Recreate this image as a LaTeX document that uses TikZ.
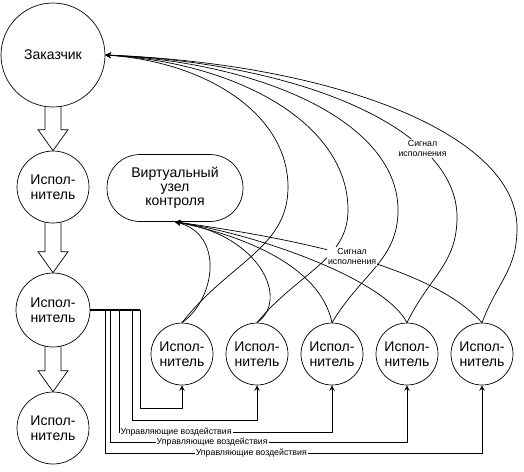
\documentclass[tikz,border=0pt]{standalone}
\usepackage{fontspec}
\setmainfont{Liberation Sans}
\usepackage{tikz}
\usetikzlibrary{calc,arrows}
\tikzset{>={stealth}}
\tikzset{
  party/.style={draw,circle,inner sep=0pt,align=center,font=\fontsize{8}{8.5}\selectfont},
  vnode/.style={draw,rectangle,rounded corners=0.66cm,minimum width=2.72cm,minimum height=1.34cm,
    inner sep=0pt,align=center,font=\fontsize{8}{8}\selectfont},
  sig/.style={->,line width=0.4pt},
  ctrl/.style={->,line width=0.4pt},
  bus/.style={line width=1.2pt},
  hollow/.style={line width=0.4pt},
  lbl/.style={fill=white,inner sep=0.6pt,align=center,font=\fontsize{5}{5.7}\selectfont}
}
\newcommand{\hollowarrow}[2]{%
  \draw[hollow] ($(#1.south)+(-8,-1)$) -- ($(#2.north)+(-8,-21)$) -- ($(#2.north)+(-15,-21)$)
    -- (#2.north) -- ($(#2.north)+(15,-21)$) -- ($(#2.north)+(8,-21)$) -- ($(#1.south)+(8,-1)$);}

\begin{document}
\begin{tikzpicture}[x=0.02cm,y=-0.02cm]
  \useasboundingbox (0,0) rectangle (524,471);

  % left column
  \node[party,minimum size=2.08cm] (cust) at (53,55) {Заказчик};
  \node[party,minimum size=1.44cm] (e1) at (53,187) {Испол-\\нитель};
  \node[party,minimum size=1.48cm] (e2) at (53,310) {Испол-\\нитель};
  \node[party,minimum size=1.44cm] (e3) at (53,428) {Испол-\\нитель};
  \hollowarrow{cust}{e1}
  \hollowarrow{e1}{e2}
  \hollowarrow{e2}{e3}

  % virtual node and executors
  \node[vnode] (vn) at (175,188) {Виртуальный\\узел\\контроля};
  \node[party,minimum size=1.24cm] (w1) at (182,354) {Испол-\\нитель};
  \node[party,minimum size=1.24cm] (w2) at (257,354) {Испол-\\нитель};
  \node[party,minimum size=1.24cm] (w3) at (332,354) {Испол-\\нитель};
  \node[party,minimum size=1.24cm] (w4) at (407,354) {Испол-\\нитель};
  \node[party,minimum size=1.24cm] (w5) at (482,354) {Испол-\\нитель};

  % signals to the customer
  \draw[sig] (w1.north) .. controls +(48,-61) and +(0,61) .. (288,187) .. controls +(0,-73) and +(101,7) .. (cust.east);
  \draw[sig] (w2.north) .. controls +(41,-50) and +(0,50) .. (348,210) .. controls +(0,-86) and +(134,8) .. (cust.east);
  \draw[sig] (w3.north) .. controls +(30,-50) and +(0,50) .. (398,210) .. controls +(0,-86) and +(162,8) .. (cust.east);
  \draw[sig] (w4.north) .. controls +(23,-47) and +(0,47) .. (457,217) .. controls +(0,-89) and +(194,8) .. (cust.east)
    node[lbl,pos=0.28] {Сигнал\\исполнения};
  \draw[sig] (w5.north) .. controls +(16,-42) and +(0,42) .. (517,228) .. controls +(0,-95) and +(227,9) .. (cust.east);

  % signals to the virtual node
  \draw[sig] (w1.north) .. controls +(33,-23) and +(50,13) .. (vn.south);
  \draw[sig] (w2.north) .. controls +(33,-23) and +(85,13) .. (vn.south);
  \draw[sig] (w3.north) .. controls +(-12,-58) and +(65,13) .. (vn.south);
  \draw[sig] (w4.north) .. controls +(-22,-43) and +(85,13) .. (vn.south);
  \draw[sig] (w5.north) .. controls +(-52,-58) and +(115,16) .. (vn.south)
    node[lbl,pos=0.5] {Сигнал\\исполнения};

  % control actions
  \coordinate (b1) at (140,310);
  \coordinate (b2) at (132,310);
  \coordinate (b3) at (119,310);
  \coordinate (b4) at (110,310);
  \coordinate (b5) at (105,310);
  \draw[bus] (e2.east) -- (b1);
  \draw[ctrl] (b1) -- ++(0,98) -| (w1.south);
  \draw[ctrl] (b2) -- ++(0,110) -| (w2.south);
  \draw[ctrl] (b3) -- ++(0,122) -| node[lbl,pos=0.134] {Управляющие воздействия} (w3.south);
  \draw[ctrl] (b4) -- ++(0,132) -| node[lbl,pos=0.172] {Управляющие воздействия} (w4.south);
  \draw[ctrl] (b5) -- ++(0,143) -| node[lbl,pos=0.194] {Управляющие воздействия} (w5.south);
\end{tikzpicture}
\end{document}
